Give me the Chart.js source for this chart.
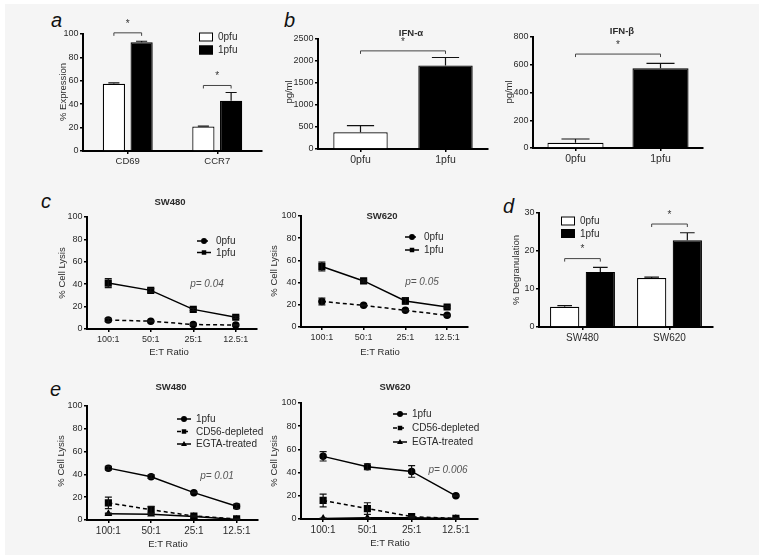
<!DOCTYPE html>
<html>
<head>
<meta charset="utf-8">
<script src="https://cdn.jsdelivr.net/npm/chart.js@4.4.1/dist/chart.umd.min.js"></script>
<style>
  body { margin: 0; background: #fff; width: 764px; height: 560px; overflow: hidden; }
  #bg { position: absolute; left: 5px; top: 4px; width: 754px; height: 551px; background: #f5f5f5; }
  .box { position: absolute; }
  .lbl { position: absolute; font: italic 20px "Liberation Sans", Arial, sans-serif; color: #111; line-height: 23px; }
</style>
</head>
<body>
<div id="bg"></div>
<div class="lbl" style="left:51px;top:9px">a</div>
<div class="lbl" style="left:284px;top:9px">b</div>
<div class="lbl" style="left:41px;top:190px">c</div>
<div class="lbl" style="left:503px;top:195px">d</div>
<div class="lbl" style="left:50px;top:378px">e</div>
<script>
// panel a
const aCats = ["CD69", "CCR7"];
const a0 = [57.5, 21];
const a0Err = [0.8, 0.3];
const a1 = [93, 43];
const a1Err = [0.8, 7];

// panel b
const bCats = ["0pfu", "1pfu"];
const ifnA = [380, 1900];
const ifnAErr = [150, 180];
const ifnB = [38, 575];
const ifnBErr = [27, 35];

// panel c
const ratios = ["100:1", "50:1", "25:1", "12.5:1"];
const c480_0 = [8, 7, 4, 3.5];
const c480_0Err = [1.5, 0.5, 0.5, 0.5];
const c480_1 = [41, 34.5, 17.5, 10.5];
const c480_1Err = [4, 1.5, 1, 1];
const c620_0 = [23, 19.5, 15, 10.5];
const c620_0Err = [3, 0.5, 0.5, 0.5];
const c620_1 = [54.5, 41.5, 23.5, 18];
const c620_1Err = [4, 1, 3, 1];

// panel d
const dCats = ["SW480", "SW620"];
const d0 = [5.3, 12.9];
const d0Err = [0.3, 0.2];
const d1 = [14.5, 22.8];
const d1Err = [1.2, 2];

// panel e
const e480_1 = [45.5, 38, 24, 12];
const e480_1Err = [1.5, 1.5, 0.5, 2];
const e480_cd = [15, 9, 3.5, 1];
const e480_cdErr = [5, 3, 0.5, 0.5];
const e480_eg = [5.5, 5, 3, 0.5];
const e480_egErr = [0.5, 0.5, 0.3, 0.3];
const e620_1 = [54, 45, 41, 20];
const e620_1Err = [4, 2.5, 5, 0.5];
const e620_cd = [16, 9, 2, 0.5];
const e620_cdErr = [5.5, 5, 0.5, 0.5];
const e620_eg = [0.5, 1, 1, 0.5];
const e620_egErr = [0.3, 0.3, 0.3, 0.3];

const FONT = '"Liberation Sans", Arial, sans-serif';
const TXT = "#2b2b2b";

function marker(ctx, style, x, y, r) {
  ctx.beginPath();
  if (style === "circle") {
    ctx.arc(x, y, r, 0, Math.PI * 2);
  } else if (style === "rect") {
    ctx.rect(x - r * 0.75, y - r * 0.75, r * 1.5, r * 1.5);
  } else {
    ctx.moveTo(x, y - r);
    ctx.lineTo(x + r, y + r * 0.7);
    ctx.lineTo(x - r, y + r * 0.7);
    ctx.closePath();
  }
  ctx.fill();
}

const deco = {
  id: "deco",
  afterDatasetsDraw(chart, args, o) {
    const ctx = chart.ctx;
    const ys = chart.scales.y;
    ctx.save();
    ctx.setLineDash([]);
    // error bars
    chart.data.datasets.forEach((ds, di) => {
      if (!ds.err) return;
      const meta = chart.getDatasetMeta(di);
      const isBar = meta.type === "bar";
      meta.data.forEach((el, i) => {
        const v = ds.data[i], e = ds.err[i];
        const yTop = ys.getPixelForValue(v + e);
        const yBot = isBar ? el.y : ys.getPixelForValue(v - e);
        const cap = isBar ? el.width * 0.25 : 3.5;
        ctx.strokeStyle = "#111";
        ctx.lineWidth = 1.2;
        ctx.beginPath();
        ctx.moveTo(el.x, yBot); ctx.lineTo(el.x, yTop);
        ctx.moveTo(el.x - cap, yTop); ctx.lineTo(el.x + cap, yTop);
        if (!isBar) { ctx.moveTo(el.x - cap, yBot); ctx.lineTo(el.x + cap, yBot); }
        ctx.stroke();
      });
    });
    // significance brackets
    (o.brackets || []).forEach(b => {
      const xa = chart.getDatasetMeta(b.a[0]).data[b.a[1]].x;
      const xb = chart.getDatasetMeta(b.b[0]).data[b.b[1]].x;
      const yv = ys.getPixelForValue(b.v);
      ctx.strokeStyle = "#444";
      ctx.lineWidth = 1;
      ctx.beginPath();
      ctx.moveTo(xa, yv + 3); ctx.lineTo(xa, yv); ctx.lineTo(xb, yv); ctx.lineTo(xb, yv + 3);
      ctx.stroke();
      ctx.fillStyle = "#333";
      ctx.font = "10px " + FONT;
      ctx.textAlign = "center";
      ctx.textBaseline = "middle";
      ctx.fillText("*", (xa + xb) / 2, yv - 9);
    });
    // legend
    if (o.legend) {
      const L = o.legend;
      chart.data.datasets.forEach((ds, i) => {
        const x = L.x - o.ox, y = L.y + i * L.dy - o.oy;
        if (L.kind === "box") {
          ctx.fillStyle = ds.backgroundColor;
          ctx.strokeStyle = "#000";
          ctx.lineWidth = 1;
          ctx.fillRect(x, y - 4.5, 14, 9);
          ctx.strokeRect(x + 0.5, y - 4, 13, 8);
        } else {
          ctx.strokeStyle = "#000";
          ctx.lineWidth = 1.5;
          ctx.setLineDash(ds.borderDash || []);
          ctx.beginPath();
          ctx.moveTo(x, y); ctx.lineTo(x + 14, y);
          ctx.stroke();
          ctx.setLineDash([]);
          ctx.fillStyle = "#000";
          marker(ctx, ds.pointStyle, x + 7, y, 3);
        }
        ctx.fillStyle = TXT;
        ctx.font = "10px " + FONT;
        ctx.textAlign = "left";
        ctx.textBaseline = "middle";
        ctx.fillText(ds.label, x + 19, y + 0.5);
      });
    }
    // free texts
    (o.texts || []).forEach(t => {
      ctx.save();
      ctx.translate(t.x - o.ox, t.y - o.oy);
      if (t.rot) ctx.rotate(-Math.PI / 2);
      ctx.fillStyle = t.color || TXT;
      ctx.font = t.font || "9.5px " + FONT;
      ctx.textAlign = "center";
      ctx.textBaseline = "middle";
      ctx.fillText(t.t, 0, 0);
      ctx.restore();
    });
    ctx.restore();
  }
};

function axes(max, step, tickSize) {
  const tf = { family: FONT, size: tickSize || 9 };
  return {
    x: {
      offset: true,
      grid: { display: true, offset: false, drawOnChartArea: false, drawTicks: true, tickLength: 3, color: "#000", lineWidth: 1.5 },
      border: { display: true, color: "#000", width: 2 },
      ticks: { font: tf, color: TXT, padding: 2, maxRotation: 0 }
    },
    y: {
      min: 0, max: max,
      grid: { display: true, drawOnChartArea: false, drawTicks: true, tickLength: 3, color: "#000", lineWidth: 1.5 },
      border: { display: true, color: "#000", width: 2 },
      ticks: { stepSize: step, font: { family: FONT, size: 9 }, color: TXT, padding: 1.5, callback: v => String(v) }
    }
  };
}

function panel(area, cfg) {
  const yW = 40, xH = 44, padT = 34, padR = 14;
  const left = area.l - yW, top = area.t - padT;
  const w = area.r - area.l + yW + padR, h = area.b - area.t + padT + xH;
  const box = document.createElement("div");
  box.className = "box";
  box.style.left = left + "px";
  box.style.top = top + "px";
  box.style.width = w + "px";
  box.style.height = h + "px";
  const cv = document.createElement("canvas");
  box.appendChild(cv);
  document.body.appendChild(box);
  cfg.options.responsive = true;
  cfg.options.maintainAspectRatio = false;
  cfg.options.animation = false;
  cfg.options.layout = { padding: { top: padT, right: padR, left: 0, bottom: 0 } };
  cfg.options.scales.y.afterFit = s => { s.width = yW; };
  cfg.options.scales.x.afterFit = s => { s.height = xH; };
  cfg.options.plugins = cfg.options.plugins || {};
  cfg.options.plugins.legend = { display: false };
  cfg.options.plugins.tooltip = { enabled: false };
  cfg.options.plugins.deco.ox = left;
  cfg.options.plugins.deco.oy = top;
  cfg.plugins = [deco];
  return new Chart(cv, cfg);
}

function lineDs(label, data, err, style, dashed) {
  return {
    label, data, err,
    borderColor: "#000", backgroundColor: "#000", borderWidth: 1.5,
    borderDash: dashed ? [4, 3] : [],
    pointStyle: style, pointRadius: style === "rect" ? 4 : 3,
    pointBackgroundColor: "#000", pointBorderColor: "#000", tension: 0
  };
}

const axisTitle = "9.5px " + FONT;
const boldTitle = "bold 9.5px " + FONT;
const pFont = "italic 10px " + FONT;
const pColor = "#555";

// ---- a ----
panel({ l: 83, t: 34, r: 262, b: 151 }, {
  type: "bar",
  data: {
    labels: aCats,
    datasets: [
      { label: "0pfu", data: a0, err: a0Err, backgroundColor: "#fff", borderColor: "#000", borderWidth: 1.2, categoryPercentage: 0.62, barPercentage: 0.8 },
      { label: "1pfu", data: a1, err: a1Err, backgroundColor: "#000", borderColor: "#000", borderWidth: 1.2, categoryPercentage: 0.62, barPercentage: 0.8 }
    ]
  },
  options: {
    scales: axes(100, 20, 9.5),
    plugins: { deco: {
      brackets: [{ a: [0, 0], b: [1, 0], v: 101 }, { a: [0, 1], b: [1, 1], v: 56 }],
      legend: { x: 199, y: 37, dy: 13, kind: "box" },
      texts: [{ t: "% Expression", x: 63, y: 92, rot: true, font: axisTitle }]
    } }
  }
});

// ---- b IFN-a ----
panel({ l: 318, t: 39, r: 488, b: 149 }, {
  type: "bar",
  data: {
    labels: bCats,
    datasets: [
      { label: "IFN-α", data: ifnA, err: ifnAErr, backgroundColor: ["#fff", "#000"], borderColor: "#000", borderWidth: 1.2, categoryPercentage: 1, barPercentage: 0.64 }
    ]
  },
  options: {
    scales: axes(2500, 500, 10.5),
    plugins: { deco: {
      brackets: [{ a: [0, 0], b: [0, 1], v: 2230 }],
      texts: [
        { t: "IFN-α", x: 411, y: 33, font: boldTitle },
        { t: "pg/ml", x: 289, y: 92, rot: true, font: axisTitle }
      ]
    } }
  }
});

// ---- b IFN-b ----
panel({ l: 533, t: 37, r: 703, b: 148 }, {
  type: "bar",
  data: {
    labels: bCats,
    datasets: [
      { label: "IFN-β", data: ifnB, err: ifnBErr, backgroundColor: ["#fff", "#000"], borderColor: "#000", borderWidth: 1.2, categoryPercentage: 1, barPercentage: 0.66 }
    ]
  },
  options: {
    scales: axes(800, 200, 10.5),
    plugins: { deco: {
      brackets: [{ a: [0, 0], b: [0, 1], v: 677 }],
      texts: [
        { t: "IFN-β", x: 622, y: 31, font: boldTitle },
        { t: "pg/ml", x: 509, y: 92, rot: true, font: axisTitle }
      ]
    } }
  }
});

// ---- c SW480 ----
panel({ l: 87, t: 217, r: 257, b: 329 }, {
  type: "line",
  data: {
    labels: ratios,
    datasets: [
      lineDs("0pfu", c480_0, c480_0Err, "circle", true),
      lineDs("1pfu", c480_1, c480_1Err, "rect", false)
    ]
  },
  options: {
    scales: axes(100, 20, 9),
    plugins: { deco: {
      legend: { x: 197, y: 241, dy: 11.5, kind: "line" },
      texts: [
        { t: "SW480", x: 170, y: 202, font: boldTitle },
        { t: "% Cell Lysis", x: 62, y: 273, rot: true, font: axisTitle },
        { t: "E:T Ratio", x: 169, y: 352, font: axisTitle },
        { t: "p= 0.04", x: 207, y: 284, font: pFont, color: pColor }
      ]
    } }
  }
});

// ---- c SW620 ----
panel({ l: 301, t: 216, r: 468, b: 327 }, {
  type: "line",
  data: {
    labels: ratios,
    datasets: [
      lineDs("0pfu", c620_0, c620_0Err, "circle", true),
      lineDs("1pfu", c620_1, c620_1Err, "rect", false)
    ]
  },
  options: {
    scales: axes(100, 20, 9),
    plugins: { deco: {
      legend: { x: 405, y: 237, dy: 13, kind: "line" },
      texts: [
        { t: "SW620", x: 382, y: 216, font: boldTitle },
        { t: "% Cell Lysis", x: 274, y: 271, rot: true, font: axisTitle },
        { t: "E:T Ratio", x: 380, y: 352, font: axisTitle },
        { t: "p= 0.05", x: 422, y: 282, font: pFont, color: pColor }
      ]
    } }
  }
});

// ---- d ----
panel({ l: 539, t: 213, r: 713, b: 327 }, {
  type: "bar",
  data: {
    labels: dCats,
    datasets: [
      { label: "0pfu", data: d0, err: d0Err, backgroundColor: "#fff", borderColor: "#000", borderWidth: 1.2, categoryPercentage: 0.82, barPercentage: 0.82 },
      { label: "1pfu", data: d1, err: d1Err, backgroundColor: "#000", borderColor: "#000", borderWidth: 1.2, categoryPercentage: 0.82, barPercentage: 0.82 }
    ]
  },
  options: {
    scales: axes(30, 10, 10),
    plugins: { deco: {
      brackets: [{ a: [0, 0], b: [1, 0], v: 18 }, { a: [0, 1], b: [1, 1], v: 27.1 }],
      legend: { x: 561, y: 221, dy: 12.5, kind: "box" },
      texts: [{ t: "% Degranulation", x: 516, y: 270, rot: true, font: axisTitle }]
    } }
  }
});

// ---- e SW480 ----
panel({ l: 87, t: 406, r: 258, b: 520 }, {
  type: "line",
  data: {
    labels: ratios,
    datasets: [
      lineDs("1pfu", e480_1, e480_1Err, "circle", false),
      lineDs("CD56-depleted", e480_cd, e480_cdErr, "rect", true),
      lineDs("EGTA-treated", e480_eg, e480_egErr, "triangle", false)
    ]
  },
  options: {
    scales: axes(100, 20, 10),
    plugins: { deco: {
      legend: { x: 177, y: 419, dy: 12.5, kind: "line" },
      texts: [
        { t: "SW480", x: 171, y: 387, font: boldTitle },
        { t: "% Cell Lysis", x: 61, y: 461, rot: true, font: axisTitle },
        { t: "E:T Ratio", x: 168, y: 544, font: axisTitle },
        { t: "p= 0.01", x: 217, y: 476, font: pFont, color: pColor }
      ]
    } }
  }
});

// ---- e SW620 ----
panel({ l: 301, t: 403, r: 478, b: 519 }, {
  type: "line",
  data: {
    labels: ratios,
    datasets: [
      lineDs("1pfu", e620_1, e620_1Err, "circle", false),
      lineDs("CD56-depleted", e620_cd, e620_cdErr, "rect", true),
      lineDs("EGTA-treated", e620_eg, e620_egErr, "triangle", false)
    ]
  },
  options: {
    scales: axes(100, 20, 10),
    plugins: { deco: {
      legend: { x: 393, y: 414, dy: 14, kind: "line" },
      texts: [
        { t: "SW620", x: 395, y: 387, font: boldTitle },
        { t: "% Cell Lysis", x: 274, y: 461, rot: true, font: axisTitle },
        { t: "E:T Ratio", x: 390, y: 543, font: axisTitle },
        { t: "p= 0.006", x: 448, y: 470, font: pFont, color: pColor }
      ]
    } }
  }
});
</script>
</body>
</html>
